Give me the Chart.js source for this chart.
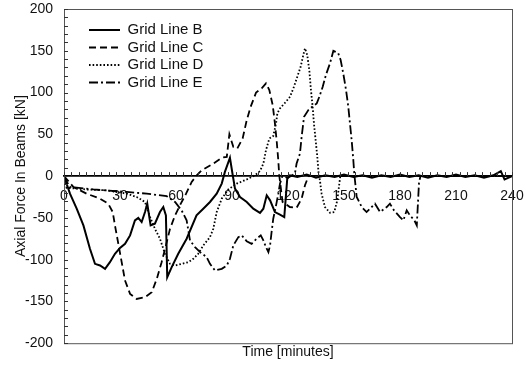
<!DOCTYPE html>
<html>
<head>
<meta charset="utf-8">
<script src="https://cdn.jsdelivr.net/npm/chart.js@4.4.1/dist/chart.umd.min.js"></script>
<style>
  html, body { margin: 0; padding: 0; background: #fff; }
  #wrap { position: relative; width: 526px; height: 367px; }
</style>
</head>
<body>
<div id="wrap"><canvas id="forceChart"></canvas></div>
<script>
// Valores (tiempo en minutos, fuerza en kN)
const seriesNames = ["Grid Line B", "Grid Line C", "Grid Line D", "Grid Line E"];

const timeB = [0, 3.2, 6.8, 10.4, 13.9, 16.6, 19.3, 22, 24.6, 27.3, 30, 32.7, 35.4, 38, 39.8, 41.6, 43.4, 44.6, 46.4, 48.7,
  51.4, 53.2, 54.6, 55.3, 57.7, 61.2, 65.7, 71, 74.6, 78.2, 81.8, 84.5, 86.2, 88.9, 90.4, 91.6, 94.3, 97.9, 101.4, 105,
  106.8, 108.6, 110.4, 113, 115.7, 118, 119.6, 121, 125, 130, 135, 140, 145, 150, 155, 160, 165, 170, 175, 180,
  185, 190, 195, 200, 205, 210, 215, 220, 225, 230, 234, 236, 240];
const forceB = [0, -21, -39, -59, -87, -105, -107, -111, -103, -93, -86, -81, -71, -53, -50, -55, -43, -33, -59, -57,
  -43, -37, -47, -121, -109, -93, -75, -47, -39, -31, -21, -9, 5, 22, 1, -15, -25, -31, -39, -44,
  -39, -23, -29, -43, -46, -49, -3, 1, -1, 2, -2, 1, -1, 2, -1, 1, -2, 1, -1, 2,
  -1, 1, -2, 1, -1, 2, -1, 1, -2, 1, 6, -4, 0];

const timeC = [0, 5, 12.1, 19.3, 23.7, 26.1, 27.3, 29.1, 30.9, 32.7, 35.4, 38.9, 43.4, 47, 49.7, 52.3, 54.6, 56.8, 59.5, 62.1,
  65.4, 68.4, 71.1, 73.8, 80, 84.5, 87.2, 88.6, 90.7, 92.8, 95.7, 97.9, 100, 102.9, 105.9, 108.2, 110, 111.8, 113, 113.9,
  114.8, 115.3, 117.1, 121, 124.6, 127.3, 129.1, 131, 240];
const forceC = [0, -13, -21, -27, -33, -43, -59, -81, -103, -125, -141, -147, -145, -139, -123, -103, -83, -63, -47, -35,
  -21, -7, 1, 7, 15, 22, 23, 50, 35, 33, 45, 67, 83, 100, 105, 111, 103, 85, 63, 43,
  19, 1, -31, -37, -38, -27, -11, 0, 0];

const timeD = [0, 1.4, 12.1, 22.9, 33.6, 38.9, 43.4, 46.1, 48.7, 51.4, 54.1, 56.8, 59.5, 63, 66.6, 69.3, 71.9, 74.6, 78.2, 80,
  81.8, 84.5, 88, 92.5, 97.9, 102.3, 105, 106.8, 108.2, 110, 112.1, 113.6, 114.3, 115.7, 118.9, 121.1, 123.2, 125, 126.8, 128.2,
  129.1, 130.3, 131.4, 132.3, 133.2, 133.9, 134.8, 135.7, 136.4, 137.1, 138, 139.8, 142.5, 144.8, 146.4, 147.5, 148, 240];
const forceD = [0, -14, -16, -17, -21, -25, -31, -49, -63, -75, -93, -105, -107, -105, -103, -99, -93, -83, -73, -63,
  -43, -27, -16, -9, -4, 1, 6, 15, 31, 45, 48, 63, 75, 81, 89, 95, 107, 119, 131, 145,
  153, 145, 127, 103, 83, 63, 43, 23, 3, -5, -21, -37, -44, -43, -29, -9, 0, 0];

const timeE = [0, 3, 15.7, 33.6, 44.3, 55, 59.5, 63, 65.7, 67.5, 70.2, 72.9, 76.4, 78.2, 80.9, 84.5, 87.2, 88.9, 90.7, 93.4,
  95.2, 97.9, 100.5, 103.2, 105.4, 106.8, 108.2, 109.5, 110.4, 111.2, 112.1, 113.6, 114.8, 115.7, 117, 120, 123.7, 124.6, 126.4, 127.3,
  128.6, 130.9, 133.5, 135.4, 136.8, 138.6, 140.3, 142.5, 144.3, 145.2, 146.9, 148.2, 149.6, 151.1, 152.3, 153.2, 154.1, 155, 155.5, 156.8,
  159.5, 162.1, 166.6, 169.3, 172.9, 174.6, 176.8, 180, 181.8, 183.6, 185.3, 187.7, 189, 190.2, 191, 240];
const forceE = [0, -13, -16, -19, -21, -24, -31, -41, -53, -77, -85, -91, -97, -105, -113, -111, -107, -99, -83, -73,
  -71, -78, -81, -75, -71, -77, -85, -91, -83, -67, -51, -35, -21, -9, 0, -2, 3, 15, 27, 47,
  71, 79, 84, 87, 95, 107, 121, 135, 150, 149, 147, 139, 123, 103, 83, 63, 43, 19, 3, -25,
  -37, -43, -33, -43, -37, -33, -41, -49, -53, -41, -47, -53, -59, -7, 0, 0];

const xTicks = [0, 30, 60, 90, 120, 150, 180, 210, 240];
const yTicks = [-200, -150, -100, -50, 0, 50, 100, 150, 200];

const fontFamily = "'Liberation Sans', Arial, sans-serif";

function toPoints(times, forces) {
  return times.map((t, i) => ({ x: t, y: forces[i] }));
}

// Marco del área del gráfico y marcas menores hacia adentro
const framePlugin = {
  id: "framePlugin",
  afterDatasetsDraw(chart) {
    const { ctx, chartArea, scales } = chart;
    ctx.save();
    ctx.strokeStyle = "#555";
    ctx.lineWidth = 1;
    ctx.strokeRect(chartArea.left + 0.5, chartArea.top + 0.5, chartArea.width, chartArea.height);

    ctx.strokeStyle = "#333";
    ctx.beginPath();
    for (let v = -200; v <= 200; v += 10) {
      const y = Math.round(scales.y.getPixelForValue(v)) + 0.5;
      ctx.moveTo(chartArea.left, y);
      ctx.lineTo(chartArea.left + 4, y);
    }
    const y0 = scales.y.getPixelForValue(0);
    for (let t = 0; t <= 240; t += 4) {
      const x = Math.round(scales.x.getPixelForValue(t)) + 0.5;
      ctx.moveTo(x, y0);
      ctx.lineTo(x, y0 - 4);
    }
    ctx.stroke();
    ctx.restore();
  }
};

// Mover la leyenda a la esquina superior izquierda dentro del área
const legendPlacer = {
  id: "legendPlacer",
  afterLayout(chart) {
    const lg = chart.legend;
    if (!lg) return;
    const w = lg.width, h = lg.height;
    lg.left = chart.chartArea.left + 22.5;
    lg.top = chart.chartArea.top + 11;
    lg.right = lg.left + w;
    lg.bottom = lg.top + h;
  }
};

const lineStyles = [
  { dash: [], width: 2 },
  { dash: [7, 4], width: 1.8 },
  { dash: [1.6, 2], width: 1.8 },
  { dash: [9, 3, 2, 3], width: 1.8 }
];

const allData = [
  toPoints(timeB, forceB),
  toPoints(timeC, forceC),
  toPoints(timeD, forceD),
  toPoints(timeE, forceE)
];

new Chart(document.getElementById("forceChart"), {
  type: "line",
  data: {
    datasets: seriesNames.map((name, i) => ({
      label: name,
      data: allData[i],
      borderColor: "#000",
      backgroundColor: "#000",
      borderWidth: lineStyles[i].width,
      borderDash: lineStyles[i].dash,
      pointRadius: 0,
      tension: 0
    }))
  },
  options: {
    responsive: true,
    maintainAspectRatio: false,
    animation: false,
    layout: { padding: { left: 0, right: 14, top: 9, bottom: 0 } },
    scales: {
      x: {
        type: "linear",
        position: { y: 0 },
        min: 0,
        max: 240,
        afterBuildTicks: (scale) => { scale.ticks = xTicks.map(v => ({ value: v })); },
        afterFit: (scale) => { scale.paddingLeft = 0; scale.paddingRight = 0; },
        grid: { display: false, drawTicks: false },
        border: { display: true, color: "#000", width: 1.8 },
        ticks: { color: "#111", padding: 12, font: { family: fontFamily, size: 14 }, maxRotation: 0 }
      },
      y: {
        type: "linear",
        position: "left",
        min: -200,
        max: 200,
        afterBuildTicks: (scale) => { scale.ticks = yTicks.map(v => ({ value: v })); },
        afterFit: (scale) => { scale.width = 64; scale.paddingTop = 0; scale.paddingBottom = 0; },
        grid: { display: false, drawTicks: false },
        border: { display: true, color: "#555", width: 1 },
        ticks: { color: "#111", padding: 11, font: { family: fontFamily, size: 14 } },
        title: {
          display: true,
          text: "Axial Force In Beams [kN]",
          color: "#111",
          font: { family: fontFamily, size: 14 },
          padding: { top: 13, bottom: 0 }
        }
      }
    },
    plugins: {
      legend: {
        position: "chartArea",
        align: "start",
        labels: {
          color: "#111",
          font: { family: fontFamily, size: 15 },
          usePointStyle: true,
          pointStyle: "line",
          pointStyleWidth: 31,
          padding: 2.5,
          generateLabels(chart) {
            const items = Chart.defaults.plugins.legend.labels.generateLabels(chart);
            items.forEach((item) => {
              const ds = chart.data.datasets[item.datasetIndex];
              item.lineDash = ds.borderDash;
              item.lineWidth = ds.borderWidth;
            });
            return items;
          }
        }
      },
      title: {
        display: true,
        text: "Time [minutes]",
        position: "bottom",
        fullSize: false,
        color: "#111",
        font: { family: fontFamily, size: 14, weight: "normal" },
        padding: { top: 1, bottom: 6 }
      },
      tooltip: { enabled: false }
    }
  },
  plugins: [framePlugin, legendPlacer]
});
</script>
</body>
</html>
